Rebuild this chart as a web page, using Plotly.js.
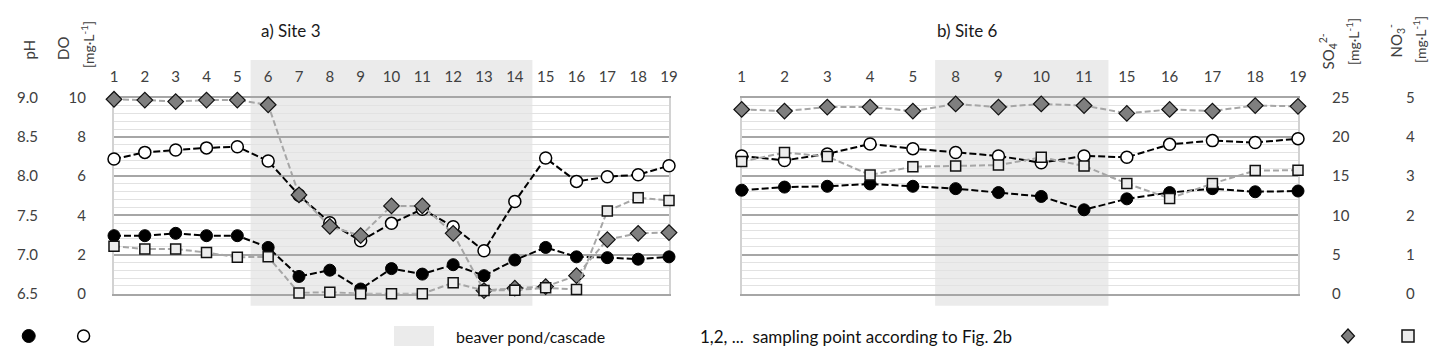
<!DOCTYPE html>
<html>
<head>
<meta charset="utf-8">
<script src="https://cdn.plot.ly/plotly-3.0.1.min.js"></script>
<style>html,body{margin:0;padding:0;background:#fff;}#chart{width:1444px;height:355px;}</style>
</head>
<body>
<div id="chart"></div>
<script>
// ---- data ----
var catA = ['1','2','3','4','5','6','7','8','9','10','11','12','13','14','15','16','17','18','19'];
var catB = ['1','2','3','4','5','8','9','10','11','15','16','17','18','19'];

var pH_a  = [7.24, 7.24, 7.27, 7.24, 7.24, 7.09, 6.72, 6.80, 6.56, 6.82, 6.75, 6.87, 6.73, 6.93, 7.09, 6.97, 6.96, 6.94, 6.97];
var DO_a  = [6.87, 7.21, 7.33, 7.44, 7.50, 6.77, 5.03, 3.62, 2.70, 3.59, 4.31, 3.42, 2.19, 4.70, 6.92, 5.73, 5.97, 6.07, 6.53];
var SO4_a = [24.8, 24.7, 24.5, 24.7, 24.7, 24.1, 12.6, 8.6, 7.4, 11.2, 11.2, 7.7, 0.4, 0.7, 0.9, 2.3, 6.9, 7.7, 7.8];
var NO3_a = [1.21, 1.14, 1.14, 1.05, 0.93, 0.94, 0.02, 0.04, 0.00, 0.00, 0.00, 0.28, 0.08, 0.09, 0.15, 0.11, 2.11, 2.45, 2.38];

var pH_b  = [7.82, 7.86, 7.87, 7.90, 7.87, 7.84, 7.79, 7.74, 7.57, 7.71, 7.79, 7.84, 7.80, 7.81];
var DO_b  = [7.03, 6.80, 7.13, 7.64, 7.40, 7.20, 7.03, 6.68, 7.03, 6.96, 7.62, 7.81, 7.71, 7.91];
var SO4_b = [23.5, 23.3, 23.8, 23.8, 23.3, 24.2, 23.8, 24.2, 24.0, 23.0, 23.5, 23.3, 24.0, 23.9];
var NO3_b = [3.37, 3.60, 3.50, 3.03, 3.24, 3.26, 3.28, 3.48, 3.26, 2.81, 2.43, 2.81, 3.14, 3.15];

var pondA = ['6', '14'];   // first / last sampling point inside beaver pond (Site 3)
var pondB = ['8', '11'];   // Site 6

var legendPond = 'beaver pond/cascade';
var legendPts = '1,2, ...  sampling point according to Fig. 2b';

// ---- layout helpers ----
var W = 1444, H = 355;
function px(x){ return x / W; }
function py(y){ return 1 - y / H; }

var TXT = '#404040';
var FONT = 'Lato, "DejaVu Sans", sans-serif';
var MAJOR = '#a6a6a6';

function styleNO3(){ return {mode:'lines+markers', line:{color:'#a6a6a6', width:2, dash:'6px,3px'},
  marker:{symbol:'square', size:10, color:'#ececec', line:{color:'#111', width:1.5}}}; }
function styleDO(){ return {mode:'lines+markers', line:{color:'#000', width:2, dash:'7px,3px'},
  marker:{symbol:'circle', size:12, color:'#fff', line:{color:'#000', width:1.5}}}; }
function stylePH(){ return {mode:'lines+markers', line:{color:'#000', width:2, dash:'7px,3px'},
  marker:{symbol:'circle', size:12, color:'#000', line:{color:'#000', width:1}}}; }
function styleSO4(){ return {mode:'lines+markers', line:{color:'#a6a6a6', width:2, dash:'6px,3px'},
  marker:{symbol:'diamond', size:12, color:'#7f7f7f', line:{color:'#111', width:1.2}}}; }

function tr(base, x, y, xa, ya, name){
  return Object.assign(base, {x:x, y:y, xaxis:xa, yaxis:ya, name:name, showlegend:false, cliponaxis:false, hoverinfo:'x+y'});
}

var traces = [
  tr(styleNO3(), catA, NO3_a, 'x', 'y4', 'NO3'),
  tr(stylePH(),  catA, pH_a,  'x', 'y2', 'pH'),
  tr(styleDO(),  catA, DO_a,  'x', 'y',  'DO'),
  tr(styleSO4(), catA, SO4_a, 'x', 'y3', 'SO4'),
  tr(styleNO3(), catB, NO3_b, 'x2', 'y4', 'NO3'),
  tr(stylePH(),  catB, pH_b,  'x2', 'y2', 'pH'),
  tr(styleDO(),  catB, DO_b,  'x2', 'y',  'DO'),
  tr(styleSO4(), catB, SO4_b, 'x2', 'y3', 'SO4')
];

// minor gridline positions (every 0.4 DO, skipping the major ones)
var minorVals = [];
for (var i = 1; i < 25; i++) { if (i % 5 !== 0) minorVals.push(+(i * 0.4).toFixed(2)); }

var yDom = [py(293.7), py(97.7)];
var tickFont = {family: FONT, size: 15, color: TXT};

function xAxis(cats, dom){
  return {type:'category', categoryorder:'array', categoryarray:cats, range:[0, cats.length-1],
    domain:dom, side:'top', anchor:'y', showgrid:false, zeroline:false,
    showline:true, linecolor:MAJOR, linewidth:2, mirror:'all', layer:'below traces',
    ticks:'', tickfont:tickFont, ticklabelstandoff:8, fixedrange:true};
}

var layout = {
  width: W, height: H,
  margin: {l:0, r:0, t:0, b:0},
  paper_bgcolor: '#fff', plot_bgcolor: 'rgba(0,0,0,0)',
  font: {family: FONT, color: TXT},
  showlegend: false,
  xaxis: xAxis(catA, [px(114), px(669)]),
  xaxis2: xAxis(catB, [px(741.7), px(1298)]),
  yaxis: {domain: yDom, range:[0,10], tick0:0, dtick:2, anchor:'x', side:'left',
    showgrid:true, gridcolor:MAJOR, gridwidth:2,
    minor:{tickmode:'array', tickvals:minorVals, showgrid:true, gridcolor:'#e2e2e2', gridwidth:1},
    zeroline:false, showline:true, linecolor:'#d2d2d2', linewidth:2, mirror:'all',
    layer:'below traces', ticks:'', tickfont:tickFont, ticklabelstandoff:23, fixedrange:true},
  yaxis2: {overlaying:'y', anchor:'x', side:'left', range:[6.5, 9.0], tick0:6.5, dtick:0.5, tickformat:'.1f',
    showgrid:false, zeroline:false, showline:false, ticks:'', tickfont:tickFont, ticklabelstandoff:75, fixedrange:true},
  yaxis3: {overlaying:'y', anchor:'x2', side:'right', range:[0, 25], tick0:0, dtick:5,
    showgrid:false, zeroline:false, showline:false, ticks:'', tickfont:tickFont, ticklabelstandoff:33, fixedrange:true},
  yaxis4: {overlaying:'y', anchor:'x2', side:'right', range:[0, 5], tick0:0, dtick:1,
    showgrid:false, zeroline:false, showline:false, ticks:'', tickfont:tickFont, ticklabelstandoff:107, fixedrange:true},
  shapes: [
    {type:'rect', layer:'below', xref:'x', yref:'paper', x0:catA.indexOf(pondA[0])-0.57, x1:catA.indexOf(pondA[1])+0.57,
      y0:py(305.7), y1:py(60), fillcolor:'#ebebeb', line:{width:0}},
    {type:'rect', layer:'below', xref:'x2', yref:'paper', x0:catB.indexOf(pondB[0])-0.48, x1:catB.indexOf(pondB[1])+0.57,
      y0:py(305.7), y1:py(60), fillcolor:'#ebebeb', line:{width:0}},
    // legend symbols
    {type:'circle', xref:'paper', yref:'paper', xsizemode:'pixel', ysizemode:'pixel', xanchor:px(28.7), yanchor:py(336),
      x0:-6.5, x1:6.5, y0:-6.5, y1:6.5, fillcolor:'#000', line:{color:'#000', width:1}},
    {type:'circle', xref:'paper', yref:'paper', xsizemode:'pixel', ysizemode:'pixel', xanchor:px(83.6), yanchor:py(336),
      x0:-6, x1:6, y0:-6, y1:6, fillcolor:'#fff', line:{color:'#000', width:1.5}},
    {type:'rect', xref:'paper', yref:'paper', x0:px(394), x1:px(434), y0:py(346), y1:py(326), fillcolor:'#ebebeb', line:{width:0}},
    {type:'path', xref:'paper', yref:'paper', xsizemode:'pixel', ysizemode:'pixel', xanchor:px(1348), yanchor:py(336),
      path:'M0,-7 L6.5,0 L0,7 L-6.5,0 Z', fillcolor:'#7f7f7f', line:{color:'#111', width:1.2}},
    {type:'rect', xref:'paper', yref:'paper', xsizemode:'pixel', ysizemode:'pixel', xanchor:px(1408), yanchor:py(336),
      x0:-6, x1:6, y0:-6, y1:6, fillcolor:'#ececec', line:{color:'#111', width:1.5}}
  ],
  annotations: [
    {text:'a) Site 3', xref:'paper', yref:'paper', x:px(291), y:py(30.5), showarrow:false, xanchor:'center', yanchor:'middle', font:{size:17, color:'#1a1a1a'}},
    {text:'b) Site 6', xref:'paper', yref:'paper', x:px(967.5), y:py(30), showarrow:false, xanchor:'center', yanchor:'middle', font:{size:17, color:'#1a1a1a'}},
    {text:'pH', xref:'paper', yref:'paper', x:px(28), y:py(49.5), showarrow:false, textangle:-90, xanchor:'center', yanchor:'middle', font:{size:15}},
    {text:'DO', xref:'paper', yref:'paper', x:px(62.5), y:py(48.5), showarrow:false, textangle:-90, xanchor:'center', yanchor:'middle', font:{size:15}},
    {text:'[mg·L<sup>-1</sup>]', xref:'paper', yref:'paper', x:px(87), y:py(45), showarrow:false, textangle:-90, xanchor:'center', yanchor:'middle', font:{size:14}},
    {text:'SO<sub>4</sub><sup>2-</sup>', xref:'paper', yref:'paper', x:px(1327.5), y:py(52), showarrow:false, textangle:-90, xanchor:'center', yanchor:'middle', font:{size:15}},
    {text:'[mg·L<sup>-1</sup>]', xref:'paper', yref:'paper', x:px(1353), y:py(42), showarrow:false, textangle:-90, xanchor:'center', yanchor:'middle', font:{size:14}},
    {text:'NO<sub>3</sub><sup>-</sup>', xref:'paper', yref:'paper', x:px(1396), y:py(40.5), showarrow:false, textangle:-90, xanchor:'center', yanchor:'middle', font:{size:15}},
    {text:'[mg·L<sup>-1</sup>]', xref:'paper', yref:'paper', x:px(1420), y:py(40), showarrow:false, textangle:-90, xanchor:'center', yanchor:'middle', font:{size:14}},
    {text:legendPond, xref:'paper', yref:'paper', x:px(454), y:py(336), showarrow:false, xanchor:'left', yanchor:'middle', font:{size:16, color:'#111'}},
    {text:legendPts, xref:'paper', yref:'paper', x:px(698), y:py(336), showarrow:false, xanchor:'left', yanchor:'middle', font:{size:17, color:'#111'}}
  ]
};

Plotly.newPlot('chart', traces, layout, {displayModeBar:false, staticPlot:true});
</script>
</body>
</html>
